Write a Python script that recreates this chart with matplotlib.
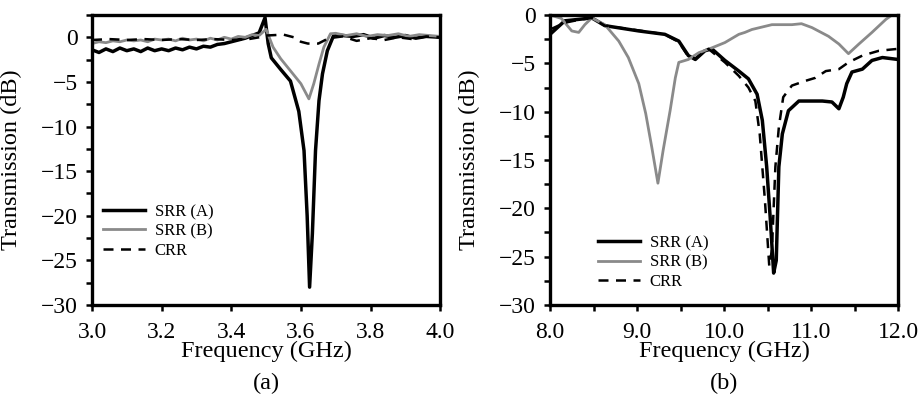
import matplotlib
matplotlib.use("Agg")
import matplotlib.pyplot as plt
from matplotlib.ticker import MultipleLocator

plt.rcParams.update({"font.family": ["Liberation Serif", "DejaVu Serif"], "font.size": 17})

# ---------------------------------------------------------------------------
# (a) 3-4 GHz
# ---------------------------------------------------------------------------
freq_a_A = [3.00, 3.02, 3.04, 3.06, 3.08, 3.10, 3.12, 3.14, 3.16, 3.18, 3.20, 3.22, 3.24,
            3.26, 3.28, 3.30, 3.32, 3.34, 3.36, 3.38, 3.40, 3.42, 3.44, 3.46, 3.48, 3.497,
            3.506, 3.515, 3.542, 3.570, 3.594, 3.609, 3.618, 3.625, 3.633, 3.642, 3.652,
            3.662, 3.676, 3.695, 3.72, 3.75, 3.78, 3.81, 3.84, 3.87, 3.90, 3.93, 3.96, 4.00]
srrA_a = [-1.4, -1.7, -1.3, -1.6, -1.2, -1.5, -1.3, -1.6, -1.2, -1.5, -1.3, -1.5, -1.2,
          -1.4, -1.1, -1.3, -1.0, -1.1, -0.8, -0.7, -0.5, -0.3, -0.1, 0.2, 0.5, 2.2,
          -0.7, -2.3, -3.6, -4.9, -8.3, -12.7, -20.0, -28.0, -22.0, -12.7, -7.1,
          -4.1, -1.5, 0.3, 0.2, 0.1, 0.3, -0.1, 0.2, 0.0, 0.2, -0.1, 0.1, 0.0]

freq_a_B = [3.00, 3.02, 3.04, 3.06, 3.08, 3.10, 3.12, 3.14, 3.16, 3.18, 3.20, 3.22, 3.24,
            3.26, 3.28, 3.30, 3.32, 3.34, 3.36, 3.38, 3.40, 3.42, 3.44, 3.46, 3.48, 3.50,
            3.52, 3.542, 3.570, 3.600, 3.623, 3.637, 3.652, 3.666, 3.685, 3.70, 3.73,
            3.76, 3.79, 3.82, 3.85, 3.88, 3.91, 3.94, 3.97, 4.00]
srrB_a = [-0.7, -0.5, -0.6, -0.4, -0.5, -0.3, -0.4, -0.3, -0.5, -0.2, -0.3, -0.2, -0.4,
          -0.1, -0.3, -0.2, -0.4, -0.1, -0.3, 0.0, -0.2, 0.1, 0.0, 0.3, 0.2, 0.9,
          -1.1, -2.4, -3.75, -5.2, -6.9, -5.2, -3.0, -1.1, 0.4, 0.45, 0.2, 0.4,
          0.1, 0.3, 0.2, 0.4, 0.1, 0.3, 0.2, 0.1]

freq_a_C = [3.00, 3.05, 3.10, 3.15, 3.20, 3.25, 3.30, 3.35, 3.40, 3.45, 3.48, 3.50, 3.55,
            3.58, 3.60, 3.62, 3.65, 3.68, 3.72, 3.76, 3.80, 3.84, 3.88, 3.92, 3.96, 4.00]
crr_a = [-0.3, -0.2, -0.3, -0.2, -0.3, -0.2, -0.3, -0.2, -0.3, -0.2, 0.0, 0.2, 0.3,
         0.0, -0.5, -0.7, -0.7, -0.1, 0.1, -0.4, -0.1, -0.3, 0.0, -0.2, 0.1, 0.0]

# ---------------------------------------------------------------------------
# (b) 8-12 GHz
# ---------------------------------------------------------------------------
freq_b_A = [8.00, 8.17, 8.33, 8.48, 8.63, 9.02, 9.32, 9.48, 9.59, 9.67, 9.78, 9.86, 10.01,
            10.17, 10.28, 10.38, 10.44, 10.49, 10.53, 10.57, 10.60, 10.63, 10.67, 10.74,
            10.86, 11.13, 11.24, 11.32, 11.37, 11.41, 11.47, 11.59, 11.70, 11.82, 12.00]
srrA_b = [-2.0, -0.6, -0.45, -0.3, -1.1, -1.65, -2.0, -2.7, -4.2, -4.6, -3.7, -3.5, -4.7,
          -5.8, -6.6, -8.2, -10.9, -15.7, -20.9, -26.7, -25.4, -15.7, -12.3, -9.9,
          -8.9, -8.9, -9.0, -9.7, -8.5, -7.1, -5.9, -5.6, -4.7, -4.4, -4.6]

freq_b_B = [8.00, 8.13, 8.25, 8.33, 8.40, 8.48, 8.63, 8.79, 8.90, 9.02, 9.10, 9.17, 9.24,
            9.30, 9.38, 9.44, 9.48, 9.59, 9.71, 9.86, 10.01, 10.17, 10.24, 10.32, 10.55,
            10.78, 10.89, 11.01, 11.20, 11.32, 11.43, 11.55, 11.70, 11.86, 11.93, 12.00]
srrB_b = [0.0, -0.35, -1.65, -1.8, -1.0, -0.3, -1.0, -2.7, -4.4, -7.1, -10.2, -13.7, -17.4,
          -14.0, -9.9, -6.5, -4.9, -4.6, -3.9, -3.4, -2.85, -2.0, -1.8, -1.5, -1.0,
          -1.0, -0.9, -1.3, -2.2, -3.0, -4.0, -3.0, -1.8, -0.45, 0.0, -0.1]

freq_b_C = [8.00, 8.17, 8.33, 8.48, 8.63, 9.02, 9.32, 9.48, 9.59, 9.67, 9.82, 10.01, 10.17,
            10.28, 10.36, 10.41, 10.47, 10.52, 10.55, 10.59, 10.63, 10.68, 10.78, 10.94,
            11.05, 11.17, 11.32, 11.43, 11.59, 11.78, 12.00]
crr_b = [-1.5, -0.8, -0.5, -0.3, -1.1, -1.6, -2.0, -2.8, -4.3, -4.5, -3.5, -4.9, -6.3,
         -7.5, -8.9, -12.3, -19.2, -26.0, -24.3, -15.7, -11.6, -8.5, -7.3, -6.8,
         -6.5, -5.8, -5.6, -4.9, -4.2, -3.7, -3.5]

legend_labels = ["SRR (A)", "SRR (B)", "CRR"]
gray = "#8a8a8a"

fig = plt.figure(figsize=(9.21, 3.98), dpi=100)
ax_a = fig.add_axes([0.0999, 0.2337, 0.378, 0.7286])
ax_b = fig.add_axes([0.5972, 0.2337, 0.3779, 0.7286])

panels = [
    (ax_a, freq_a_A, srrA_a, freq_a_B, srrB_a, freq_a_C, crr_a),
    (ax_b, freq_b_A, srrA_b, freq_b_B, srrB_b, freq_b_C, crr_b),
]
for ax, fA, yA, fB, yB, fC, yC in panels:
    ax.plot(fA, yA, color="black", lw=2.5, label=legend_labels[0])
    ax.plot(fB, yB, color=gray, lw=2.0, label=legend_labels[1])
    ax.plot(fC, yC, color="black", lw=1.8, ls=(0, (4, 3)), label=legend_labels[2])
    for s in ax.spines.values():
        s.set_linewidth(2.4)
    ax.tick_params(direction="out", length=4, width=1.8, labelsize=17)
    ax.tick_params(axis="x", pad=8)
    ax.tick_params(axis="y", pad=6)
    ax.tick_params(which="minor", direction="out", length=4, width=1.8)
    ax.yaxis.set_major_locator(MultipleLocator(5))
    ax.yaxis.set_minor_locator(MultipleLocator(2.5))
    ax.set_ylabel("Transmission (dB)", fontsize=17.5)
    ax.set_xlabel("Frequency (GHz)", fontsize=17.5, labelpad=-1)
    ax.yaxis.set_label_coords(-0.2, 0.5)

ax_a.set_xlim(3.0, 4.0)
ax_a.set_ylim(-30, 2.5)
ax_a.set_xticks([3.0, 3.2, 3.4, 3.6, 3.8, 4.0], ["3.0", "3.2", "3.4", "3.6", "3.8", "4.0"])
ax_a.legend(loc="lower left", bbox_to_anchor=(0.032, 0.16), frameon=False, fontsize=12,
            handlelength=2.5, handletextpad=0.6, labelspacing=0.2, borderpad=0, borderaxespad=0)
ax_a.text(0.5, -0.27, "(a)", transform=ax_a.transAxes, ha="center", va="center", fontsize=17.5)

ax_b.set_xlim(8.0, 12.0)
ax_b.set_ylim(-30, 0)
ax_b.xaxis.set_minor_locator(MultipleLocator(0.5))
ax_b.set_xticks([8, 9, 10, 11, 12], ["8.0", "9.0", "10.0", "11.0", "12.0"])
ax_b.legend(loc="lower left", bbox_to_anchor=(0.138, 0.052), frameon=False, fontsize=12,
            handlelength=2.5, handletextpad=0.6, labelspacing=0.2, borderpad=0, borderaxespad=0)
ax_b.text(0.5, -0.27, "(b)", transform=ax_b.transAxes, ha="center", va="center", fontsize=17.5)

fig.savefig("out.png", dpi=100)
